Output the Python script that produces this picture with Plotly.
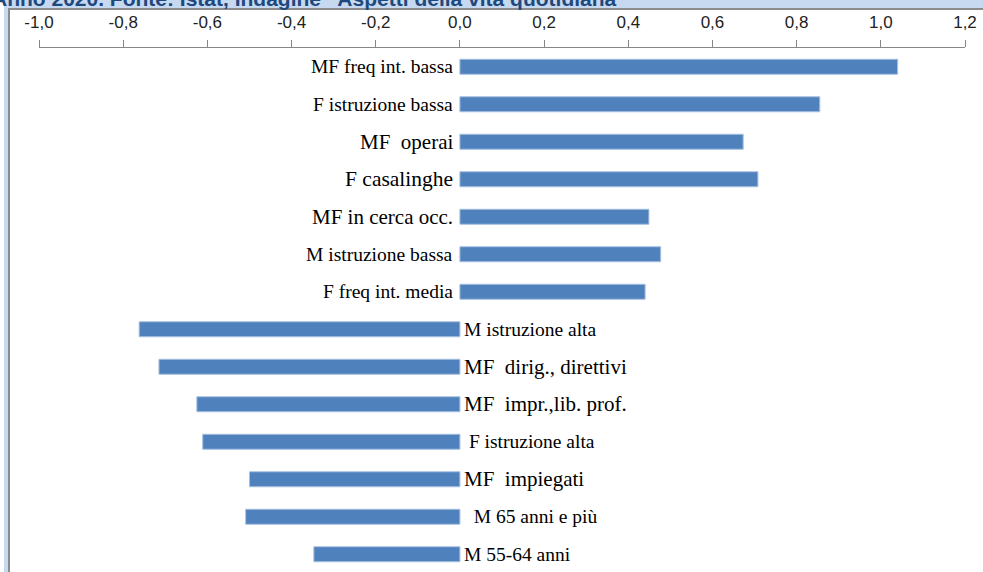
import plotly.graph_objects as go

# Groups and their scores (positive: above average, negative: below average)
categories = [
    "MF freq int. bassa",
    "F istruzione bassa",
    "MF  operai",
    "F casalinghe",
    "MF in cerca occ.",
    "M istruzione bassa",
    "F freq int. media",
    "M istruzione alta",
    "MF  dirig., direttivi",
    "MF  impr.,lib. prof.",
    " F istruzione alta",
    "MF  impiegati",
    "  M 65 anni e più",
    "M 55-64 anni",
]
values = [1.04, 0.855, 0.673, 0.708, 0.449, 0.477, 0.44,
          -0.762, -0.715, -0.625, -0.611, -0.50, -0.509, -0.347]

tick_vals = [-1.0, -0.8, -0.6, -0.4, -0.2, 0.0, 0.2, 0.4, 0.6, 0.8, 1.0, 1.2]
tick_text = ["-1,0", "-0,8", "-0,6", "-0,4", "-0,2", "0,0",
             "0,2", "0,4", "0,6", "0,8", "1,0", "1,2"]

title_text = "Anno 2020. Fonte: Istat, Indagine \u201cAspetti della vita quotidiana\u201d"

# label font sizes (style)
label_sizes = [19.5, 19.5, 21, 21.5, 21, 19.5, 19.5, 19.5, 21, 21, 19.5, 21, 19.5, 19.5]

W, H = 983, 572
L, R, T, B = 39, 18, 48, 0
PW, PH = W - L - R, H - T - B
ROW = 37.5

def px(xpix):
    return (xpix - L) / PW

def py(ypix):
    return (H - B - ypix) / PH

pos = list(range(len(categories)))

fig = go.Figure()
fig.add_trace(go.Bar(
    x=values,
    y=pos,
    orientation="h",
    width=0.4,
    marker=dict(color="#4f81bd", line=dict(color="#a7c0e0", width=1)),
    hoverinfo="skip",
))

annotations = []
for i, (cat, v, fs) in enumerate(zip(categories, values, label_sizes)):
    annotations.append(dict(
        x=0, y=i, xref="x", yref="y",
        text=cat,
        showarrow=False,
        xanchor="right" if v >= 0 else "left",
        xshift=-5 if v >= 0 else 2,
        yanchor="middle",
        font=dict(family="Liberation Serif", size=fs, color="#000000"),
    ))

annotations.append(dict(
    x=px(-10), y=py(-1.5), xref="paper", yref="paper",
    text="<b>" + title_text + "</b>",
    showarrow=False, xanchor="left", yanchor="middle",
    font=dict(family="Liberation Sans", size=21, color="#1f497d"),
))

shapes = [
    # light blue frame band
    dict(type="rect", xref="paper", yref="paper", layer="below",
         x0=px(4), x1=px(W + 10), y0=py(H + 10), y1=py(-10),
         fillcolor="#c6d9f1", line=dict(width=0)),
    # white chart area
    dict(type="rect", xref="paper", yref="paper", layer="below",
         x0=px(8), x1=px(W + 10), y0=py(H + 10), y1=py(8),
         fillcolor="#ffffff", line=dict(width=0)),
    # grey border
    dict(type="line", xref="paper", yref="paper", layer="below",
         x0=px(9), x1=px(9), y0=py(H + 10), y1=py(8),
         line=dict(color="#8c8c8c", width=2)),
    dict(type="line", xref="paper", yref="paper", layer="below",
         x0=px(8), x1=px(W + 10), y0=py(9), y1=py(9),
         line=dict(color="#8c8c8c", width=2)),
]

fig.update_layout(
    width=W, height=H,
    margin=dict(l=L, r=R, t=T, b=B, pad=0),
    paper_bgcolor="#ffffff",
    plot_bgcolor="rgba(0,0,0,0)",
    showlegend=False,
    annotations=annotations,
    shapes=shapes,
    xaxis=dict(
        range=[-1.0, 1.2],
        side="top",
        tickvals=tick_vals,
        ticktext=tick_text,
        ticks="outside",
        ticklen=7,
        tickcolor="#868686",
        tickwidth=1,
        showline=True,
        linecolor="#868686",
        linewidth=1,
        showgrid=False,
        zeroline=False,
        ticklabelstandoff=5,
        tickfont=dict(family="Liberation Sans", size=17, color="#222222"),
        fixedrange=True,
    ),
    yaxis=dict(
        range=[-0.5 + PH / ROW, -0.5],
        showticklabels=False,
        showgrid=False,
        zeroline=False,
        showline=False,
        ticks="",
        fixedrange=True,
    ),
)

fig.write_html("out.html")
